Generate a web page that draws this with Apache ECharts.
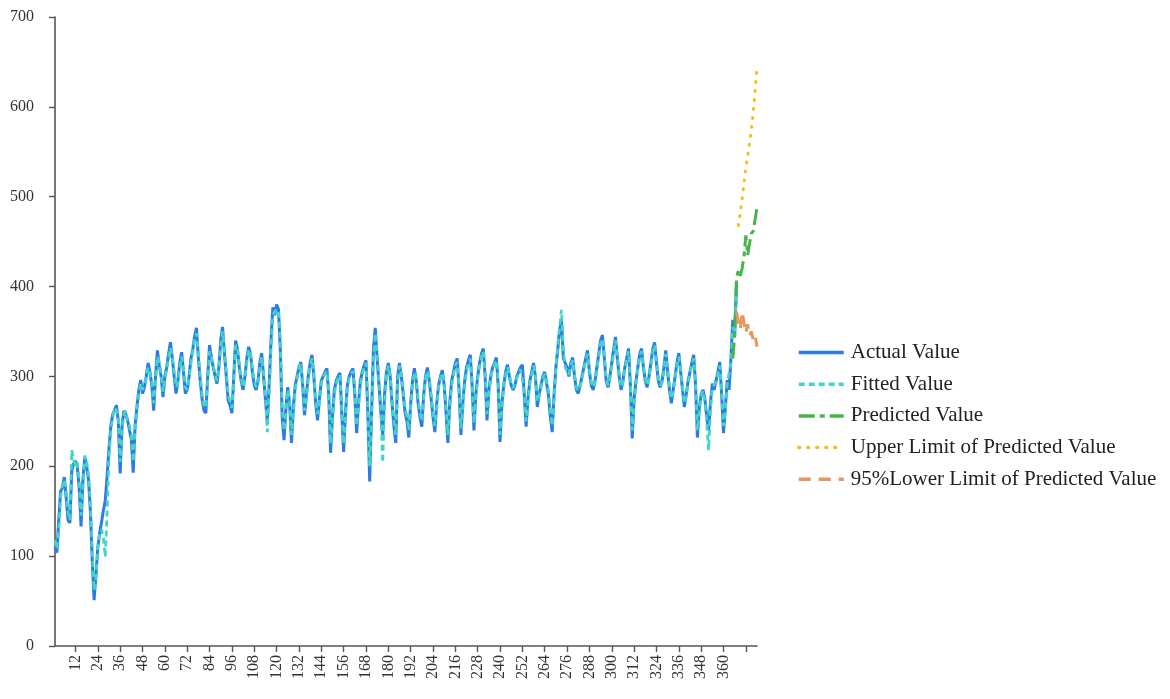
<!DOCTYPE html>
<html>
<head>
<meta charset="utf-8">
<style>
  html, body { margin: 0; padding: 0; background: #ffffff; }
  #chart { width: 1170px; height: 699px; }
</style>
<script src="https://cdn.jsdelivr.net/npm/echarts@6/dist/echarts.min.js"></script>
</head>
<body>
<div id="chart"></div>
<script>
// Daily series: observed values, model fit, and a 12-step forecast with its bounds
const TOTAL_POINTS = 378;
const categories = Array.from({ length: TOTAL_POINTS }, (_, i) => String(i + 1));

const yTicks = { min: 0, max: 700, step: 100 };

const actualValues = [
  110,104,140,172,176,188,165,140,137,195,
  203,206,200,175,133,185,210,200,185,150,
  95,51,80,110,126,138,151,162,190,220,
  245,258,262,268,250,192,245,262,258,251,
  240,230,193,245,266,285,296,281,288,300,
  315,305,290,262,300,329,312,300,277,300,
  310,325,338,320,300,281,295,315,327,305,
  281,285,300,320,330,345,354,320,295,275,
  262,259,300,335,320,310,300,292,310,340,
  355,325,300,273,268,259,300,340,330,310,
  295,285,300,320,333,325,305,290,285,295,
  315,326,300,275,250,290,340,377,368,380,
  375,330,255,229,265,288,270,226,265,290,
  300,310,316,290,257,280,300,315,324,300,
  270,251,275,295,300,305,309,280,215,255,
  285,295,300,304,260,216,260,290,300,305,
  309,280,237,270,295,305,312,318,260,183,
  260,330,354,320,290,260,235,280,305,315,
  300,270,245,226,300,315,300,280,260,250,
  232,270,295,309,295,270,255,244,280,300,
  310,295,275,255,238,270,290,300,307,290,
  260,226,270,295,305,315,320,285,235,270,
  295,310,318,324,290,240,280,300,315,325,
  331,300,251,285,300,310,315,321,290,227,
  270,290,305,313,300,290,285,290,300,305,
  310,313,280,244,275,295,305,315,300,266,
  280,290,300,305,307,280,255,238,280,310,
  330,352,362,320,315,310,300,315,321,300,
  285,281,290,300,310,320,329,305,290,285,
  295,310,325,340,346,320,295,288,300,315,
  330,344,320,300,285,295,310,320,331,290,
  231,275,295,310,325,331,310,295,288,300,
  315,330,338,315,295,288,295,310,329,305,
  285,270,285,300,315,326,305,285,266,280,
  295,305,315,324,290,232,265,280,285,275,
  255,240,270,292,285,295,305,316,280,237,
  265,296,285,320,363,345,405
];

const fittedValues = [
  118,108,128,165,180,185,172,148,140,218,
  208,200,204,185,145,175,212,205,190,160,
  105,62,75,110,125,130,120,99,150,210,
  240,255,265,262,255,205,240,258,262,250,
  245,235,205,240,262,280,292,285,285,298,
  310,308,295,270,295,322,315,302,283,298,
  308,320,332,322,305,288,292,310,322,308,
  288,285,298,315,328,340,348,325,300,280,
  268,265,295,328,322,312,302,295,308,335,
  350,330,305,280,272,265,295,335,332,312,
  298,288,298,315,330,326,308,295,288,292,
  310,322,305,280,238,280,330,368,372,375,
  372,340,265,240,260,285,275,235,258,285,
  298,308,314,295,262,275,298,312,320,305,
  275,258,270,292,300,303,306,285,225,250,
  280,292,298,302,265,225,255,285,298,303,
  306,285,245,265,290,302,310,315,265,200,
  250,320,348,325,295,265,204,270,300,312,
  302,275,250,235,292,312,302,285,265,255,
  240,265,290,305,298,275,260,250,275,298,
  306,298,280,260,245,265,288,298,304,292,
  265,235,265,290,302,312,316,290,242,265,
  290,306,315,320,295,248,275,298,312,322,
  328,305,258,280,298,308,313,318,295,235,
  265,288,302,310,302,292,287,288,298,303,
  308,310,285,250,270,292,302,312,302,272,
  278,288,298,303,305,285,262,245,275,310,
  335,355,374,330,310,308,302,312,318,302,
  288,284,288,298,308,318,325,308,293,288,
  293,307,322,336,342,322,298,290,298,312,
  326,340,322,302,288,293,308,318,328,295,
  240,270,292,308,322,328,312,298,290,298,
  312,327,335,318,298,290,293,307,325,308,
  288,275,283,298,312,322,308,288,270,278,
  293,303,312,320,295,240,260,278,284,272,
  250,218,262,288,288,293,303,312,285,245,
  262,292,290,315,355,348,398
];

// Forecast pieces, each with the category index it starts at
const predictedStart = 364;
const predictedValues = [320,345,410,418,412,420,433,457,435,448,459,462,463,488];

const upperStart = 367;
const upperValues = [468,482,497,515,532,545,560,575,595,618,645];

const lowerStart = 366;
const lowerValues = [372,360,352,372,360,348,358,345,350,340,345,333];

function placeAt(start, values) {
  const out = new Array(TOTAL_POINTS).fill(null);
  values.forEach((v, i) => { out[start + i] = v; });
  return out;
}

const serif = "'Liberation Serif', 'DejaVu Serif', serif";

const chart = echarts.init(document.getElementById('chart'), null, { renderer: 'canvas' });

chart.setOption({
  animation: false,
  backgroundColor: '#ffffff',
  grid: { left: 55, right: 413, top: 17, bottom: 53, containLabel: false },
  legend: {
    orient: 'vertical',
    left: 792,
    top: 337,
    itemWidth: 45,
    itemHeight: 14,
    itemGap: 10.7,
    itemStyle: { opacity: 0 },
    lineStyle: { width: 3.5 },
    textStyle: {
      fontFamily: serif,
      fontSize: 21,
      color: '#222',
      lineHeight: 20,
      padding: [0, 0, 0, 2]
    },
    data: [
      'Actual Value',
      'Fitted Value',
      'Predicted Value',
      'Upper Limit of Predicted Value',
      '95%Lower Limit of Predicted Value'
    ]
  },
  xAxis: {
    type: 'category',
    data: categories,
    boundaryGap: false,
    axisLine: { lineStyle: { color: '#555', width: 1.6 } },
    axisTick: {
      length: 6,
      interval: (i) => (i + 1) % 12 === 0,
      lineStyle: { color: '#555', width: 1.4 }
    },
    axisLabel: {
      interval: (i) => (i + 1) % 12 === 0 && i + 1 <= 360,
      rotate: 90,
      margin: 9,
      fontFamily: serif,
      fontSize: 16,
      color: '#333'
    },
    splitLine: { show: false }
  },
  yAxis: {
    type: 'value',
    min: yTicks.min,
    max: yTicks.max,
    interval: yTicks.step,
    axisLine: { show: true, lineStyle: { color: '#555', width: 1.6 } },
    axisTick: { show: true, length: 6, lineStyle: { color: '#555', width: 1.4 } },
    axisLabel: { margin: 21, fontFamily: serif, fontSize: 16, color: '#333' },
    splitLine: { show: false }
  },
  series: [
    {
      name: 'Actual Value',
      type: 'line',
      data: actualValues,
      symbol: 'none',
      color: '#2e7be6',
      lineStyle: { color: '#2e7be6', width: 3 },
      z: 2
    },
    {
      name: 'Fitted Value',
      type: 'line',
      data: fittedValues,
      symbol: 'none',
      color: '#3fd6c6',
      lineStyle: { color: '#3fd6c6', width: 2.8, type: [6, 4] },
      z: 3
    },
    {
      name: 'Predicted Value',
      type: 'line',
      data: placeAt(predictedStart, predictedValues),
      symbol: 'none',
      color: '#46b549',
      lineStyle: { color: '#46b549', width: 3, type: [16, 5, 5, 5] },
      z: 4
    },
    {
      name: 'Upper Limit of Predicted Value',
      type: 'line',
      data: placeAt(upperStart, upperValues),
      symbol: 'none',
      color: '#f3c01c',
      lineStyle: { color: '#f3c01c', width: 3, type: [1, 8], cap: 'round' },
      z: 4
    },
    {
      name: '95%Lower Limit of Predicted Value',
      type: 'line',
      data: placeAt(lowerStart, lowerValues),
      symbol: 'none',
      color: '#e9955b',
      lineStyle: { color: '#e9955b', width: 3, type: [12, 8] },
      z: 4
    }
  ]
});
</script>
</body>
</html>
